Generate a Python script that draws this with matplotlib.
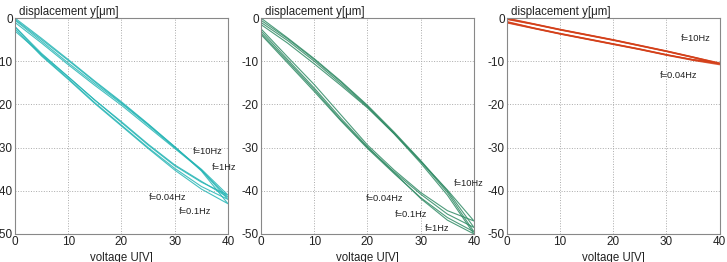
import matplotlib.pyplot as plt

plt.rcParams['font.family'] = ['Liberation Sans', 'DejaVu Sans']

# voltage grid (V) shared by every branch
volt = [0, 5, 10, 15, 20, 25, 30, 35, 40]

# panel 1 (cyan) - upper / lower branch per frequency
cyan_up = {
    'f=0.04Hz': [-0.3, -5.0, -9.8, -14.8, -19.6, -24.6, -29.8, -35.2, -42.0],
    'f=0.1Hz': [0.0, -4.7, -9.6, -14.6, -19.4, -24.5, -29.8, -35.4, -43.0],
    'f=1Hz': [-0.5, -5.4, -10.4, -15.2, -19.8, -24.8, -30.0, -35.0, -41.0],
    'f=10Hz': [-1.0, -5.8, -10.8, -15.6, -20.2, -25.2, -30.2, -35.2, -41.5],
}
cyan_lo = {
    'f=0.04Hz': [-2.0, -8.6, -14.0, -19.6, -24.8, -30.0, -34.8, -39.0, -42.0],
    'f=0.1Hz': [-2.5, -8.8, -14.2, -19.8, -25.0, -30.2, -35.2, -39.6, -43.0],
    'f=1Hz': [-2.0, -8.2, -13.6, -19.0, -24.2, -29.4, -34.2, -38.0, -41.0],
    'f=10Hz': [-3.0, -8.4, -13.6, -19.0, -24.0, -29.2, -34.0, -37.8, -41.5],
}

# panel 2 (green)
green_up = {
    'f=0.04Hz': [0.0, -4.6, -9.4, -14.6, -20.2, -26.4, -33.0, -40.0, -48.5],
    'f=0.1Hz': [-0.5, -4.8, -9.6, -14.8, -20.4, -26.6, -33.2, -40.4, -49.5],
    'f=1Hz': [-1.0, -5.2, -10.0, -15.2, -20.6, -26.8, -33.6, -41.0, -50.0],
    'f=10Hz': [-1.5, -5.8, -10.6, -15.6, -20.8, -26.8, -33.2, -39.8, -47.0],
}
green_lo = {
    'f=0.04Hz': [-3.5, -10.0, -16.6, -23.6, -30.0, -35.6, -40.8, -45.4, -48.5],
    'f=0.1Hz': [-3.8, -10.4, -17.0, -23.8, -30.2, -36.0, -41.6, -46.2, -49.5],
    'f=1Hz': [-3.0, -9.6, -16.2, -23.2, -29.8, -35.8, -41.8, -46.8, -50.0],
    'f=10Hz': [-2.5, -9.0, -15.4, -22.4, -29.4, -35.2, -40.4, -44.6, -47.0],
}

# panel 3 (red)
red_up = {
    'f=0.04Hz': [0.0, -1.3, -2.6, -3.8, -5.0, -6.3, -7.6, -9.0, -10.5],
    'f=0.1Hz': [-0.1, -1.35, -2.65, -3.85, -5.05, -6.35, -7.65, -9.05, -10.4],
    'f=1Hz': [-0.2, -1.4, -2.7, -3.9, -5.1, -6.4, -7.7, -9.1, -10.6],
    'f=10Hz': [-0.3, -1.45, -2.75, -3.95, -5.15, -6.45, -7.75, -9.15, -10.8],
}
red_lo = {
    'f=0.04Hz': [-0.9, -2.3, -3.6, -4.8, -6.0, -7.2, -8.5, -9.6, -10.5],
    'f=0.1Hz': [-1.0, -2.35, -3.65, -4.85, -6.05, -7.25, -8.55, -9.65, -10.4],
    'f=1Hz': [-0.8, -2.25, -3.55, -4.75, -5.95, -7.15, -8.45, -9.7, -10.6],
    'f=10Hz': [-1.1, -2.4, -3.7, -4.9, -6.1, -7.3, -8.6, -9.8, -10.8],
}

# label positions (voltage, displacement)
cyan_labels = {'f=10Hz': (33.4, -30.9), 'f=1Hz': (36.9, -34.7),
               'f=0.04Hz': (25.1, -41.5), 'f=0.1Hz': (30.8, -44.8)}
green_labels = {'f=10Hz': (36.3, -38.3), 'f=0.04Hz': (19.6, -41.8),
                'f=0.1Hz': (25.2, -45.4), 'f=1Hz': (30.8, -48.8)}
red_labels = {'f=10Hz': (32.6, -4.8), 'f=0.04Hz': (28.8, -13.3)}

panels = [
    (cyan_up, cyan_lo, cyan_labels, '#25b5b5', 0.8),
    (green_up, green_lo, green_labels, '#2f8a64', 0.8),
    (red_up, red_lo, red_labels, '#d4401a', 0.9),
]
lefts = [0.0206, 0.359, 0.697]

fig = plt.figure(figsize=(7.27, 2.62), dpi=100)

for left, (up, lo, labels, color, lw) in zip(lefts, panels):
    ax = fig.add_axes([left, 0.107, 0.293, 0.824])
    for key in up:
        xs = volt + volt[::-1]
        ys = up[key] + lo[key][::-1]
        ax.plot(xs, ys, color=color, lw=lw, alpha=0.85)
    for txt, (x, y) in labels.items():
        ax.text(x, y, txt, fontsize=6.7, va='center', ha='left', color='#222222')
    ax.set_xlim(0, 40)
    ax.set_ylim(-50, 0)
    ax.set_xticks([0, 10, 20, 30, 40])
    ax.set_yticks([0, -10, -20, -30, -40, -50])
    ax.set_yticklabels(['0', '-10', '-20', '-30', '-40', '-50'])
    ax.tick_params(length=0, labelsize=8.5, pad=1.5, colors='#222222')
    ax.grid(True, linestyle=':', color='#aaaaaa', lw=0.7)
    for s in ax.spines.values():
        s.set_color('#888888')
        s.set_linewidth(0.8)
    ax.annotate('displacement y[\u03bcm]', xy=(0, 1), xycoords='axes fraction',
                xytext=(3, 0.3), textcoords='offset points', fontsize=8.3,
                va='bottom', ha='left', color='#222222')
    ax.set_xlabel('voltage U[V]', fontsize=8.3, labelpad=2.5, color='#222222')

fig.savefig('out.png', dpi=100)
